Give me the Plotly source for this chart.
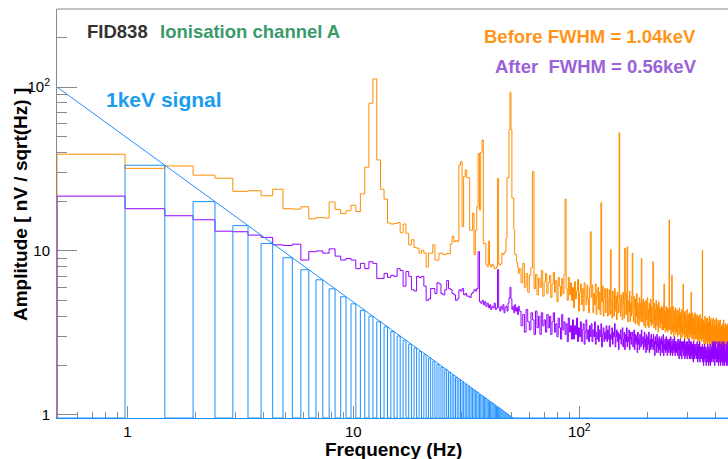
import numpy as np
import plotly.graph_objects as go

# ---------------- data ----------------
DF = 1000.0 / 2048.0  # FFT bin width in Hz; bin k spans [k*DF, (k+1)*DF]

# "Before" spectrum, bins k = 1..110 (nV/sqrt(Hz))
before_low = [
    38.9, 31.9, 33.0, 29.0, 27.8, 23.1, 23.3, 21.7, 23.8, 18.1,
    18.0, 18.6, 15.7, 16.0, 15.9, 19.9, 17.9, 16.9, 17.6, 19.0,
    17.4, 22.3, 32.4, 79.6, 112.0, 35.9, 23.8, 20.7, 14.8, 14.6,
    14.7, 14.9, 12.9, 14.6, 12.8, 10.9, 11.7, 10.5, 10.4, 9.7,
    10.1, 9.7, 8.0, 9.7, 9.7, 10.9, 8.8, 8.8, 9.7, 9.7,
    9.5, 9.5, 9.7, 9.6, 11.0, 12.3, 11.4, 11.6, 11.4, 33.4,
    35.1, 14.1, 28.4, 31.2, 28.0, 28.0, 13.4, 13.4, 17.0, 9.5,
    13.4, 18.6, 39.4, 17.8, 40.0, 47.5, 11.1, 11.1, 8.3, 8.0,
    11.5, 8.3, 8.0, 8.3, 8.1, 7.8, 7.8, 8.0, 27.7, 8.3,
    8.2, 8.4, 9.7, 9.5, 9.7, 10.0, 12.0, 28.0, 28.0, 55.0,
    93.0, 55.0, 21.0, 21.0, 13.4, 9.5, 9.5, 8.5, 8.0, 7.3,
]

# "After" spectrum, bins k = 1..110
after_low = [
    21.6, 18.1, 16.4, 15.5, 13.2, 13.1, 12.5, 12.1, 10.9, 10.8,
    11.0, 8.8, 9.9, 10.0, 9.7, 10.3, 9.3, 8.8, 9.0, 8.8,
    7.8, 8.4, 7.8, 8.6, 8.4, 6.8, 6.8, 7.3, 6.9, 7.1,
    7.0, 7.8, 7.6, 6.1, 7.5, 7.0, 5.8, 5.7, 7.0, 6.9,
    7.0, 6.1, 5.0, 5.1, 5.9, 5.9, 5.5, 6.4, 6.3, 5.5,
    5.4, 5.8, 6.6, 5.9, 5.8, 5.5, 5.4, 5.0, 5.1, 5.8,
    5.7, 5.9, 5.4, 5.5, 5.3, 5.3, 5.2, 5.5, 5.6, 5.8,
    5.7, 5.9, 9.9, 4.9, 4.8, 5.0, 4.7, 4.9, 4.6, 4.8,
    4.5, 4.7, 4.4, 4.6, 4.5, 4.8, 4.4, 4.5, 7.7, 4.5,
    4.3, 4.6, 4.4, 4.7, 4.2, 4.5, 4.6, 4.3, 4.8, 5.2,
    6.0, 5.1, 4.4, 4.6, 4.2, 4.7, 4.3, 4.5, 4.1, 4.6,
]

# Above bin 110 the spectra are read in pairs of bins (k = 111+2j, 112+2j)
before_high = [
    7.8, 6.4, 8.4, 6.0, 7.3, 5.6, 7.1, 7.9, 30.5, 5.9, 7.2, 5.4, 6.8, 6.0, 7.6, 5.3, 6.5, 7.3, 5.5, 6.4,
    7.1, 5.2, 6.3, 7.4, 5.6, 6.6, 4.9, 6.9, 6.1, 5.3, 6.8, 5.5, 7.2, 20.7, 5.9, 5.0, 6.9, 5.4, 6.4, 5.0,
    6.0, 4.5, 6.5, 5.1, 5.7, 6.7, 4.3, 5.6, 6.3, 4.7, 5.9, 4.3, 6.4, 5.3, 4.7, 6.2, 5.1, 4.2, 6.0, 13.1,
    5.2, 6.2, 4.2, 5.5, 4.7, 6.3, 4.1, 5.3, 6.0, 4.4, 5.6, 4.1, 19.7, 4.9, 6.1, 4.0, 5.2, 5.9, 4.2, 5.4,
    5.9, 4.0, 5.1, 5.8, 4.1, 10.2, 5.0, 3.9, 5.7, 4.6, 4.0, 5.9, 4.3, 5.3, 3.8, 5.6, 4.8, 4.2, 52.6, 5.1,
    4.0, 5.4, 4.5, 3.8, 5.6, 4.7, 3.9, 10.4, 5.1, 4.1, 5.5, 10.6, 3.7, 5.0, 4.3, 5.7, 3.7, 4.8, 4.0, 5.3,
    9.7, 4.2, 3.7, 5.3, 4.5, 3.6, 5.1, 4.0, 5.5, 3.6, 4.8, 4.2, 3.5, 5.2, 3.9, 4.8, 3.7, 9.0, 4.6, 3.7,
    5.1, 4.0, 3.5, 4.9, 4.2, 3.4, 5.0, 3.8, 4.6, 5.2, 3.5, 4.4, 3.4, 4.8, 4.1, 3.7, 5.1, 3.5, 4.6, 3.8,
    3.6, 8.6, 4.5, 3.4, 4.8, 3.8, 4.4, 3.3, 5.0, 3.9, 3.5, 4.7, 3.7, 3.2, 4.9, 3.8, 4.5, 3.4, 4.4, 3.6,
    4.6, 3.6, 3.3, 4.5, 3.8, 3.3, 4.7, 6.3, 3.4, 4.3, 3.2, 4.2, 4.6, 3.3, 3.7, 4.5, 3.2, 4.0, 4.4, 3.3,
    15.5, 4.2, 3.3, 4.5, 3.5, 3.1, 4.4, 7.1, 3.6, 3.2, 4.6, 3.5, 3.0, 4.3, 3.7, 3.3, 4.5, 3.1, 4.1, 3.5,
    3.2, 4.4, 3.7, 3.0, 4.3, 3.4, 4.1, 3.1, 4.5, 3.6, 3.2, 4.2, 2.9, 3.8, 4.4, 3.2, 3.7, 3.0, 4.3, 6.3,
    3.9, 3.1, 4.2, 3.3, 2.9, 4.3, 3.4, 4.0, 3.0, 3.7, 3.2, 4.4, 2.9, 3.5, 4.1, 3.1, 3.8, 2.9, 4.2, 3.3,
    3.5, 4.1, 3.0, 3.4, 5.6, 3.1, 3.9, 2.9, 4.2, 3.3, 3.0, 3.9, 3.5, 2.8, 4.1, 3.1, 3.6, 4.2, 2.9, 3.4,
    4.0, 3.0, 3.4, 2.9, 4.1, 3.2, 3.7, 2.8, 3.4, 4.0, 3.0, 2.8, 3.7, 3.2, 4.1, 2.9, 3.5, 3.1, 3.8, 2.8,
    3.3, 3.9, 2.9, 10.1, 3.1, 3.6, 2.8, 3.8, 3.1, 2.7, 3.6, 3.2, 4.0, 2.9, 3.2, 2.7, 3.6, 3.0, 3.9, 2.8,
    3.3, 2.9, 3.9, 2.7, 3.2, 3.7, 2.8, 3.4, 3.0, 4.0, 2.7, 3.2, 3.7, 2.8, 3.1, 3.9, 2.6, 3.2, 3.5, 2.8,
    3.2, 3.8, 2.7, 3.1, 3.9, 2.8, 3.3, 2.6, 3.5, 3.0, 2.7, 3.8, 2.8, 3.3, 2.6, 3.5, 3.0, 3.9, 2.7, 3.1,
    2.9, 3.6, 2.7, 3.3, 3.1, 3.8, 2.7, 3.2, 2.6, 3.4, 2.9, 3.7, 2.6, 3.1, 3.8, 2.7, 3.0, 3.4, 2.6, 3.2,
    3.5, 2.7, 3.2, 2.6, 3.6, 2.9, 2.6, 3.4, 3.1, 2.7, 3.8, 2.6, 3.0, 3.4, 2.5, 3.2, 2.8, 3.6, 2.6, 3.0,
    3.3, 2.6, 3.5, 2.8, 2.6, 3.3, 3.0, 3.6, 2.6, 2.8, 3.4, 2.5, 3.1, 3.3, 2.6, 2.9, 3.5, 2.6, 3.1, 2.9,
]

after_high = [
    4.3, 3.5, 4.1, 3.2, 4.4, 3.7, 3.3, 4.2, 3.8, 3.1, 4.3, 3.4, 4.0, 3.1, 4.2, 3.5, 3.8, 3.2, 4.1, 3.4,
    4.0, 3.1, 3.7, 4.2, 3.2, 3.6, 3.0, 3.9, 3.4, 2.9, 4.1, 3.3, 3.7, 3.1, 3.6, 2.8, 3.9, 3.2, 3.5, 2.9,
    3.8, 2.9, 3.5, 3.1, 3.9, 2.8, 3.4, 3.0, 3.7, 2.8, 3.3, 3.6, 2.7, 3.2, 3.8, 2.9, 3.3, 2.8, 3.5, 3.0,
    3.6, 2.8, 3.3, 3.0, 3.7, 2.7, 3.2, 2.9, 3.5, 2.8, 3.3, 3.0, 3.6, 2.6, 3.1, 3.4, 2.8, 3.2, 2.9, 3.5,
    2.8, 3.3, 2.9, 3.5, 2.6, 3.1, 2.9, 3.4, 2.7, 3.2, 3.0, 3.6, 2.6, 3.0, 3.3, 2.8, 3.2, 2.5, 3.1, 2.9,
    3.3, 2.7, 3.0, 3.4, 2.6, 2.9, 3.2, 2.5, 3.1, 2.8, 3.4, 2.6, 3.0, 2.8, 3.3, 2.5, 2.9, 3.2, 2.7, 3.0,
    3.2, 2.6, 2.9, 3.3, 2.5, 2.8, 3.1, 2.7, 3.0, 2.4, 3.2, 2.7, 2.9, 2.5, 3.1, 2.8, 2.6, 3.3, 2.7, 2.9,
    3.0, 2.5, 2.8, 3.2, 2.6, 2.9, 2.4, 3.1, 2.7, 2.5, 3.0, 2.7, 3.2, 2.4, 2.8, 2.9, 2.5, 3.1, 2.6, 2.8,
    2.9, 2.5, 3.1, 2.6, 2.8, 2.3, 3.0, 2.7, 2.8, 2.4, 3.1, 2.6, 2.9, 2.4, 2.7, 3.0, 2.5, 2.8, 2.3, 2.9,
    2.7, 3.0, 2.4, 2.8, 2.6, 3.1, 2.3, 2.7, 2.5, 2.9, 2.7, 2.4, 3.0, 2.5, 2.8, 2.3, 2.9, 2.6, 2.8, 2.4,
    2.9, 2.5, 2.7, 2.3, 3.0, 2.6, 2.4, 2.8, 2.7, 2.3, 2.9, 2.5, 2.7, 2.4, 3.0, 2.6, 2.3, 2.8, 2.5, 2.7,
    2.4, 2.8, 2.6, 2.3, 2.9, 2.5, 2.7, 2.2, 2.8, 2.5, 2.9, 2.3, 2.6, 2.8, 2.4, 2.2, 2.8, 2.5, 2.7, 2.4,
    2.8, 2.3, 2.6, 2.9, 2.2, 2.5, 2.7, 2.3, 2.8, 2.4, 2.6, 2.2, 2.8, 2.5, 2.3, 2.7, 2.4, 2.9, 2.2, 2.6,
    2.4, 2.8, 2.2, 2.6, 2.3, 2.8, 2.5, 2.2, 2.7, 2.4, 2.6, 2.1, 2.8, 2.4, 2.5, 2.2, 2.7, 2.3, 2.6, 2.4,
    2.7, 2.2, 2.5, 2.3, 2.8, 2.4, 2.1, 2.6, 2.3, 2.7, 2.2, 2.5, 2.4, 2.8, 2.1, 2.4, 2.6, 2.2, 2.5, 2.3,
    2.6, 2.2, 2.4, 2.7, 2.1, 2.5, 2.3, 2.0, 2.6, 2.4, 2.2, 2.7, 2.3, 2.1, 2.5, 2.4, 2.6, 2.0, 2.4, 2.3,
    2.5, 2.1, 2.4, 2.7, 2.2, 2.3, 2.0, 2.6, 2.4, 2.1, 2.5, 2.3, 2.7, 2.0, 2.4, 2.2, 2.5, 2.1, 2.6, 2.3,
    2.4, 2.8, 2.2, 2.5, 2.1, 2.7, 2.4, 2.2, 2.8, 2.3, 2.6, 2.0, 2.7, 2.4, 2.2, 2.8, 2.3, 2.5, 2.1, 2.4,
    2.6, 2.2, 2.4, 2.1, 2.8, 2.3, 2.5, 2.0, 2.4, 2.7, 2.2, 2.3, 2.8, 2.1, 2.4, 2.6, 2.0, 2.7, 2.3, 2.2,
    2.5, 2.1, 2.8, 2.3, 2.2, 2.6, 2.0, 2.4, 2.6, 2.1, 2.8, 2.2, 2.4, 2.0, 2.7, 2.3, 2.5, 2.1, 2.4, 2.2,
    2.4, 2.7, 2.0, 2.3, 2.6, 2.1, 2.8, 2.2, 2.4, 2.0, 2.6, 2.3, 2.7, 2.1, 2.3, 1.95, 2.5, 2.2, 2.4, 2.1,
]

# 1 keV signal: non-zero only in even bins k = 2, 4, ..., 104
signal_even = [
    33.33, 20.00, 14.29, 11.11, 9.09, 7.69, 6.67, 5.88, 5.26, 4.76,
    4.35, 4.00, 3.70, 3.45, 3.23, 3.03, 2.86, 2.70, 2.56, 2.44,
    2.33, 2.22, 2.13, 2.04, 1.96, 1.89, 1.82, 1.75, 1.69, 1.64,
    1.59, 1.54, 1.49, 1.45, 1.41, 1.37, 1.33, 1.30, 1.27, 1.23,
    1.20, 1.18, 1.15, 1.12, 1.10, 1.08, 1.05, 1.03, 1.01, 0.99,
    0.97, 0.95,
]
# 1 keV signal envelope line
signal_line_freq = [0.4883, 61.0]
signal_line_amp = [100.0, 0.80]

x_tick_vals = [1, 10, 100]
x_tick_text = ["1", "10", "10<sup>2</sup>"]
y_tick_vals = [1, 10, 100]
y_tick_text = ["1", "10", "10<sup>2</sup>"]

# ---------------- styling ----------------
ORANGE = "#ff8c00"
PURPLE = "#9400ff"
BLUE = "#1e90ff"
GRAY = "#8a8a8a"

X_RANGE = [np.log10(DF), 2.6577]
Y_RANGE = [np.log10(0.958), np.log10(299.0)]
FLOOR = 10 ** Y_RANGE[0]


def step_xy(edges, vals, floor):
    xs, ys = [edges[0]], [floor]
    for i, v in enumerate(vals):
        v = v if v > 0 else floor
        xs += [edges[i], edges[i + 1]]
        ys += [v, v]
    xs.append(edges[-1])
    ys.append(floor)
    return xs, ys


n_low = len(before_low)
low_edges = DF * np.arange(1, n_low + 2)
high_edges = DF * (n_low + 1 + 2 * np.arange(len(before_high) + 1))
all_edges = np.concatenate([low_edges, high_edges[1:]])

bx, by = step_xy(all_edges, before_low + before_high, FLOOR)
ax_, ay = step_xy(all_edges, after_low + after_high, FLOOR)

sig_vals = [0.0] * n_low
for i, v in enumerate(signal_even):
    k = 2 * (i + 1)
    sig_vals[k - 1] = v
sx, sy = step_xy(low_edges, sig_vals, FLOOR)
sx.append(1000.0)
sy.append(FLOOR)

fig = go.Figure()
fig.add_trace(go.Scatter(x=bx, y=by, mode="lines", line=dict(color=ORANGE, width=1), hoverinfo="skip"))
fig.add_trace(go.Scatter(x=ax_, y=ay, mode="lines", line=dict(color=PURPLE, width=1), hoverinfo="skip"))
fig.add_trace(go.Scatter(x=sx, y=sy, mode="lines", line=dict(color=BLUE, width=1), hoverinfo="skip"))
fig.add_trace(go.Scatter(x=signal_line_freq, y=signal_line_amp, mode="lines",
                         line=dict(color=BLUE, width=1), hoverinfo="skip"))

FONT = "Liberation Sans, Arial, sans-serif"

fig.update_layout(
    width=728, height=459,
    margin=dict(l=57, r=0, t=9, b=41),
    paper_bgcolor="white", plot_bgcolor="white",
    showlegend=False,
    font=dict(family=FONT, size=15, color="#000000"),
)

fig.update_xaxes(
    type="log", range=X_RANGE, showgrid=False, zeroline=False,
    showline=True, linecolor=BLUE, linewidth=1,
    ticks="inside", ticklen=12, tickcolor=GRAY, tickwidth=1,
    tickvals=x_tick_vals, ticktext=x_tick_text,
    tickfont=dict(family=FONT, size=15, color="#000"),
    ticklabelstandoff=0,
    minor=dict(ticks="inside", ticklen=6, tickcolor=GRAY,
               tickvals=[0.6, 0.7, 0.8, 0.9, 2, 3, 4, 5, 6, 7, 8, 9,
                         20, 30, 40, 50, 60, 70, 80, 90, 200, 300, 400]),
    layer="below traces",
)
fig.update_yaxes(
    type="log", range=Y_RANGE, showgrid=False, zeroline=False,
    showline=True, linecolor=GRAY, linewidth=1,
    ticks="inside", ticklen=20, tickcolor=GRAY, tickwidth=1,
    tickvals=y_tick_vals, ticktext=y_tick_text,
    tickfont=dict(family=FONT, size=15, color="#000"),
    ticklabelstandoff=3,
    minor=dict(ticks="inside", ticklen=10, tickcolor=GRAY,
               tickvals=[2, 3, 4, 5, 6, 7, 8, 9, 20, 30, 40, 50, 60, 70, 80, 90, 200]),
    layer="below traces",
)

# top frame line
fig.add_shape(type="line", xref="paper", yref="paper", x0=0, x1=1, y0=1, y1=1,
              line=dict(color=GRAY, width=1))


def px_x(x):
    return (x - 57) / 671.0


def px_y(y):
    return (418 - y) / 409.0


def label(text, x, y, color, size=18.5, xanchor="left", angle=0):
    fig.add_annotation(text=text, xref="paper", yref="paper", x=px_x(x), y=px_y(y),
                       xanchor=xanchor, yanchor="middle", showarrow=False, textangle=angle,
                       font=dict(family=FONT, size=size, color=color))


label("<b>FID838</b>", 85, 31.5, "#333333")
label("<b>Ionisation channel A</b>", 158, 31.5, "#3a9a6b")
label("<b>Before FWHM = 1.04keV</b>", 481.5, 36, "#ff9518")
label("<b>After\u00a0 FWHM = 0.56keV</b>", 492.5, 66.5, "#9a62d6")
label("<b>1keV signal</b>", 104, 100, "#1a9cf0", size=21)
label("<b>Amplitude [ nV / sqrt(Hz) ]</b>", 20, 205, "#000000", size=19, xanchor="center", angle=-90)
label("<b>Frequency (Hz)</b>", 393, 450, "#000000", size=19, xanchor="center")

fig.write_html(
    "out.html",
    config={"displayModeBar": False},
    post_script="document.body.style.margin='0px';document.body.style.padding='0px';"
                "document.body.style.overflow='hidden';",
)
